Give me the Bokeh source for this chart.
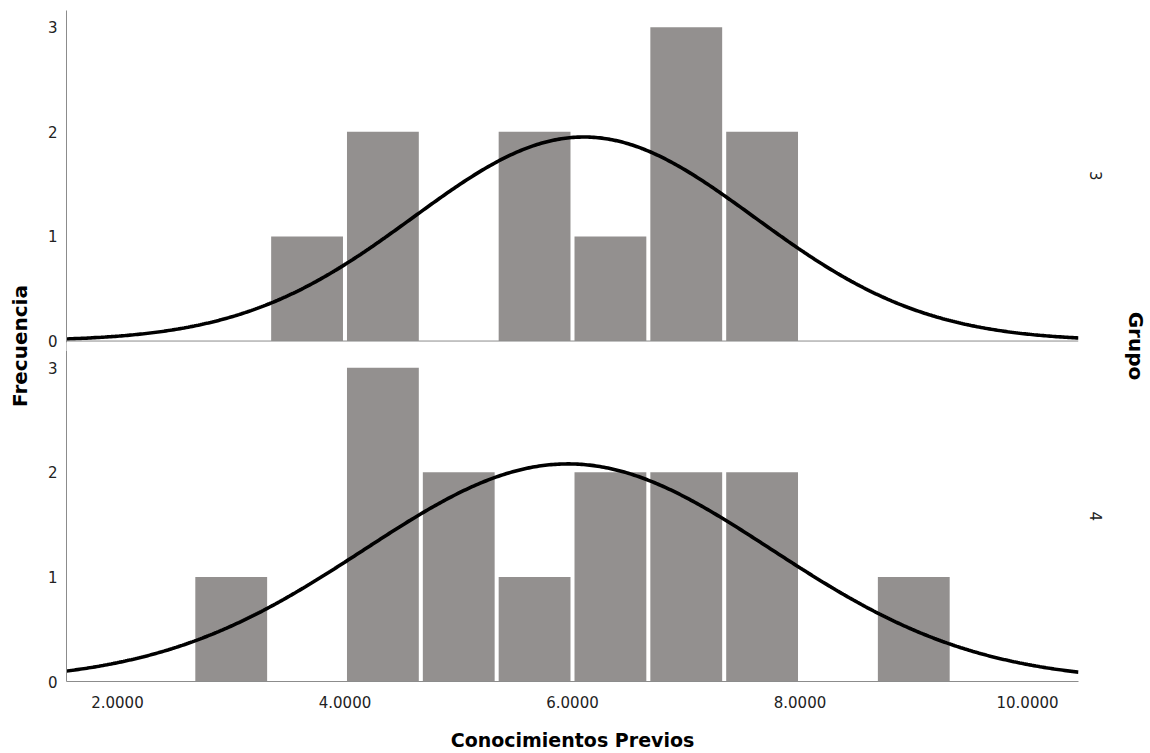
import numpy as np
from bokeh.plotting import figure
from bokeh.models import (Range1d, FixedTicker, LinearAxis, Span, BoxAnnotation,
                          NumeralTickFormatter, CustomJSTickFormatter)
from bokeh.embed import file_html
from bokeh.resources import INLINE

# ---------------- data ----------------
bin_centers = [3.0, 3.6667, 4.3333, 5.0, 5.6667, 6.3333, 7.0, 7.6667, 8.3333, 9.0]
bin_width = 0.6667
counts_g3 = [0, 1, 2, 0, 2, 1, 3, 2, 0, 0]
counts_g4 = [1, 0, 3, 2, 1, 2, 2, 2, 0, 1]
group_labels = ["3", "4"]
# fitted normal curves (mean, sd, n)
mean_g3, sd_g3, n_g3 = 6.10, 1.50, 11
mean_g4, sd_g4, n_g4 = 5.96, 1.79, 14
x_ticks = [2, 4, 6, 8, 10]
x_tick_format = "0.0000"
y_ticks = [0, 1, 2, 3]

# ---------------- layout ----------------
X_MIN, X_MAX = 1.552, 10.448
PANEL_H = 3.16
GAP = 0.095
TOP_OFF = PANEL_H + GAP
Y_END = TOP_OFF + PANEL_H

BAR = "#93908f"
AXIS = "#8c8c8c"
FONT = "DejaVu Sans"

p = figure(width=1150, height=753, output_backend="svg", toolbar_location=None,
           x_range=Range1d(X_MIN, X_MAX), y_range=Range1d(0, Y_END),
           min_border_left=66, min_border_right=71, min_border_top=10, min_border_bottom=72)
p.outline_line_color = None
p.xgrid.visible = False
p.ygrid.visible = False
p.background_fill_color = "white"

# bars
def bars(counts, base):
    xs = [c for c, n in zip(bin_centers, counts) if n > 0]
    tops = [base + n for n in counts if n > 0]
    p.vbar(x=xs, width=bin_width * 0.947, bottom=base, top=tops,
           fill_color=BAR, line_color=None)

bars(counts_g4, 0)
bars(counts_g3, TOP_OFF)

# normal curves
xs = np.linspace(X_MIN, X_MAX, 500)
def normal(m, s, n):
    return n * bin_width / (s * np.sqrt(2 * np.pi)) * np.exp(-0.5 * ((xs - m) / s) ** 2)

p.line(xs, normal(mean_g4, sd_g4, n_g4), line_color="black", line_width=3.6)
p.line(xs, TOP_OFF + normal(mean_g3, sd_g3, n_g3), line_color="black", line_width=3.6)

# baseline of top panel
p.add_layout(Span(location=TOP_OFF, dimension="width", line_color=AXIS, line_width=1))

# x axis
xa = p.xaxis[0]
xa.ticker = FixedTicker(ticks=x_ticks)
xa.formatter = NumeralTickFormatter(format=x_tick_format)
xa.major_tick_line_color = None
xa.minor_tick_line_color = None
xa.axis_line_color = AXIS
xa.major_label_standoff = 8
xa.major_label_text_font = FONT
xa.major_label_text_font_size = "15px"
xa.major_label_text_color = "#222222"
xa.axis_label = "Conocimientos Previos"
xa.axis_label_text_font = FONT
xa.axis_label_text_font_style = "bold"
xa.axis_label_text_font_size = "19px"
xa.axis_label_text_color = "black"
xa.axis_label_standoff = 18

# left y axis (two panels)
ya = p.yaxis[0]
yt = [float(t) for t in y_ticks] + [round(TOP_OFF + t, 4) for t in y_ticks]
ya.ticker = FixedTicker(ticks=yt)
ya.formatter = CustomJSTickFormatter(args=dict(off=TOP_OFF),
    code="return String(Math.round(tick >= off - 0.01 ? tick - off : tick));")
ya.major_tick_line_color = None
ya.minor_tick_line_color = None
ya.axis_line_color = AXIS
ya.major_label_standoff = 3
ya.major_label_text_font = FONT
ya.major_label_text_font_size = "15px"
ya.major_label_text_color = "#222222"
ya.axis_label = "Frecuencia"
ya.axis_label_text_font = FONT
ya.axis_label_text_font_style = "bold"
ya.axis_label_text_font_size = "20px"
ya.axis_label_text_color = "black"
ya.axis_label_standoff = 13

# right axis: group labels
gt = [round(PANEL_H / 2, 4), round(TOP_OFF + PANEL_H / 2, 4)]
ra = LinearAxis(ticker=FixedTicker(ticks=gt),
                formatter=CustomJSTickFormatter(args=dict(off=TOP_OFF, labels=group_labels),
                    code="return tick > off ? labels[0] : labels[1];"))
ra.major_label_orientation = "vertical"
ra.axis_line_color = None
ra.major_tick_line_color = None
ra.minor_tick_line_color = None
ra.major_label_standoff = 5
ra.major_label_text_font = FONT
ra.major_label_text_font_size = "15px"
ra.major_label_text_color = "#222222"
ra.axis_label = "Grupo"
ra.axis_label_text_font = FONT
ra.axis_label_text_font_style = "bold"
ra.axis_label_text_font_size = "20px"
ra.axis_label_text_color = "black"
ra.axis_label_standoff = 19
p.add_layout(ra, "right")

# gap in the left axis line between panels
p.add_layout(BoxAnnotation(left=X_MIN - 0.03, right=X_MIN + 0.005,
                           bottom=PANEL_H, top=TOP_OFF - 0.012,
                           fill_color="white", fill_alpha=1.0, line_color=None,
                           level="overlay"))

open("out.html", "w").write(file_html(p, INLINE))
